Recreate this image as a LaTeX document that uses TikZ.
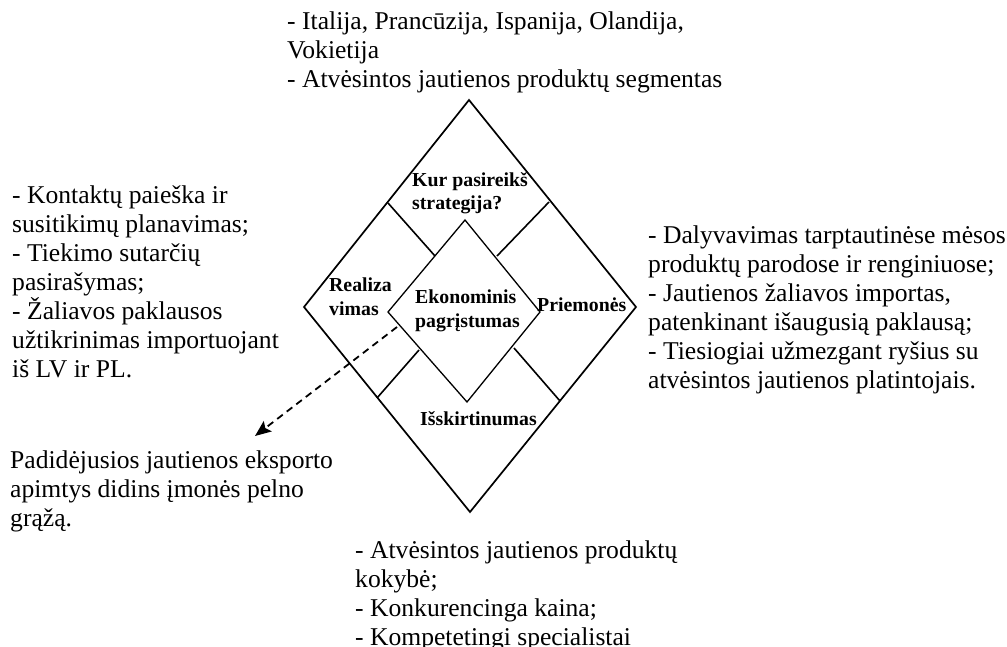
\documentclass[tikz,border=0pt]{standalone}
\usepackage{fontspec}
\setmainfont{Liberation Serif}
\usetikzlibrary{arrows.meta}
\begin{document}
\begin{tikzpicture}[x=1pt,y=-1pt,
  outline/.style={line width=1.7pt, line join=miter},
  core/.style={line width=1.3pt, line join=miter},
  divider/.style={line width=1.6pt},
  txt/.style={anchor=base west, inner sep=0pt, align=left,
    font=\fontsize{25.6}{29}\selectfont},
  part/.style={anchor=base west, inner sep=0pt, align=left,
    font=\bfseries\fontsize{19.8}{23.5}\selectfont},
  flow/.style={line width=1.8pt, dash pattern=on 7pt off 5pt,
    -{Stealth[length=16pt,width=13pt,inset=3pt]}}]
\useasboundingbox (0,0) rectangle (1007,647);

% outer diamond
\coordinate (T) at (469,100);
\coordinate (R) at (636,307);
\coordinate (B) at (470,512);
\coordinate (L) at (304,307);
% inner diamond
\coordinate (iT) at (465,220);
\coordinate (iR) at (540,312);
\coordinate (iB) at (467,402);
\coordinate (iL) at (388,312);
% ends of the dividing lines
\coordinate (oUL) at (388,203);
\coordinate (nUL) at (435,256);
\coordinate (oUR) at (549,202);
\coordinate (nUR) at (497,256);
\coordinate (oLL) at (377,398);
\coordinate (nLL) at (419,350);
\coordinate (oLR) at (560,401);
\coordinate (nLR) at (514,348);

\draw[outline] (T) -- (R) -- (B) -- (L) -- cycle;
\draw[core] (iT) -- (iR) -- (iB) -- (iL) -- cycle;
\draw[divider] (oUL) -- (nUL);
\draw[divider] (oUR) -- (nUR);
\draw[divider] (oLL) -- (nLL);
\draw[divider] (oLR) -- (nLR);

% labels inside the diamond (anchored at the baseline of their last line)
\node[part] (where) at (412,210) {Kur pasireikš\\strategija?};
\node[part] (real) at (329,315) {Realiza\\vimas};
\node[part] (econ) at (415,327) {Ekonominis\\pagrįstumas};
\node[part] (means) at (537,312) {Priemonės};
\node[part] (dist) at (420,425) {Išskirtinumas};

% surrounding notes (anchored at the baseline of their last line)
\node[txt] (top) at (287,88) {- Italija, Prancūzija, Ispanija, Olandija,\\Vokietija\\- Atvėsintos jautienos produktų segmentas};
\node[txt] (left) at (12,377) {- Kontaktų paieška ir\\susitikimų planavimas;\\- Tiekimo sutarčių\\pasirašymas;\\- Žaliavos paklausos\\užtikrinimas importuojant\\iš LV ir PL.};
\node[txt] (right) at (648,388) {- Dalyvavimas tarptautinėse mėsos\\produktų parodose ir renginiuose;\\- Jautienos žaliavos importas,\\patenkinant išaugusią paklausą;\\- Tiesiogiai užmezgant ryšius su\\atvėsintos jautienos platintojais.};
\node[txt] (bottom) at (355,645) {- Atvėsintos jautienos produktų\\kokybė;\\- Konkurencinga kaina;\\- Kompetetingi specialistai};
\node[txt] (result) at (10,526) {Padidėjusios jautienos eksporto\\apimtys didins įmonės pelno\\grąžą.};

% dashed arrow towards the result
\coordinate (fromcore) at (397,327);
\coordinate (tores) at (255,436);
\draw[flow] (fromcore) -- (tores);
\end{tikzpicture}
\end{document}
